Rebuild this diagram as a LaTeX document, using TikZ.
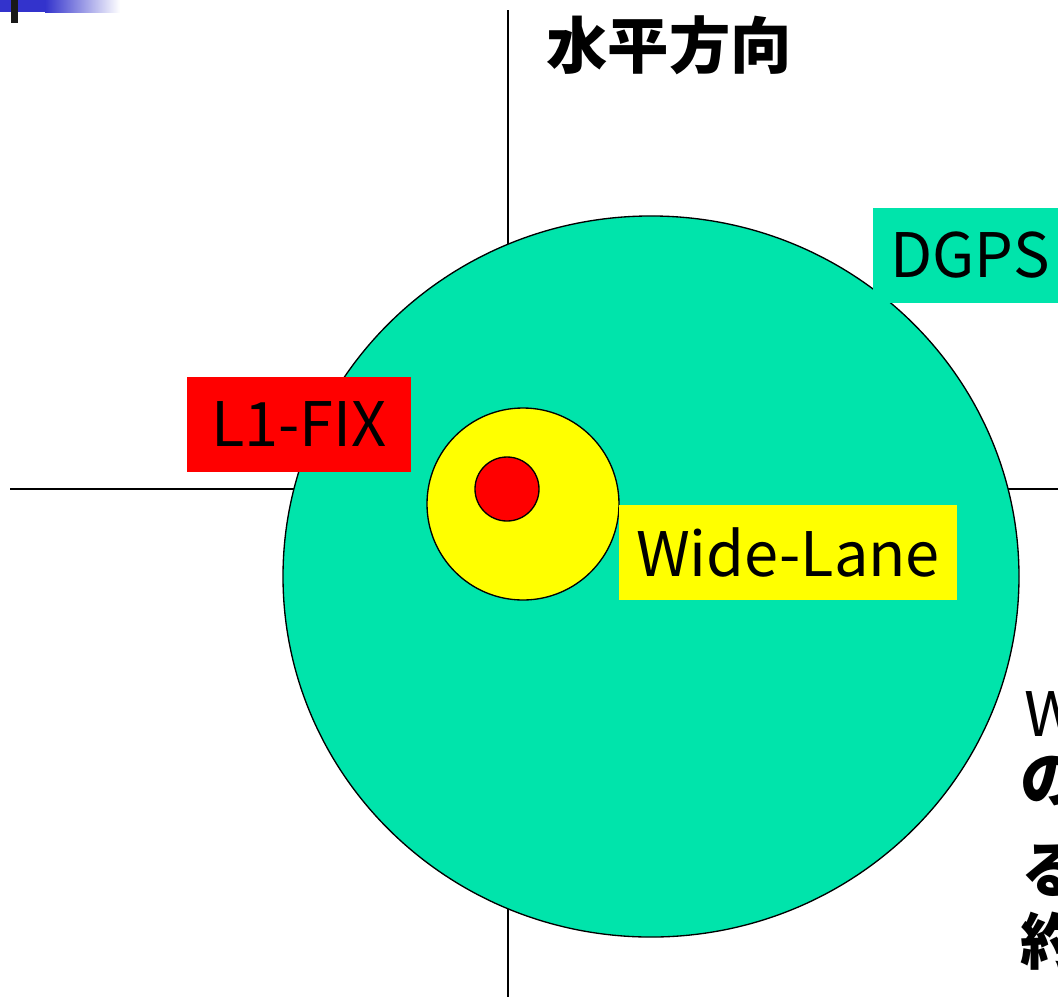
\documentclass[tikz,border=0pt]{standalone}
\usepackage{fontspec}
\setmainfont{Noto Sans CJK JP}
\definecolor{dgps}{RGB}{0,228,171}
\definecolor{banner}{RGB}{51,51,204}
\definecolor{redfix}{RGB}{255,0,0}
\definecolor{wl}{RGB}{255,255,0}
\tikzset{
  axis/.style={line width=1.1pt,black},
  ring/.style={circle,draw=black,line width=1pt,inner sep=0pt},
  labelbox/.style={rectangle,inner sep=0pt,font=\fontsize{46}{50}\selectfont,text=black},
  bigtext/.style={inner sep=0pt,font=\fontsize{46}{50}\selectfont,text=black}
}
\begin{document}
\begin{tikzpicture}[x=0.75pt,y=-0.75pt]
\useasboundingbox (0,0) rectangle (1058,997);
\clip (0,0) rectangle (1058,997);
% banner
\fill[banner] (0,0) rectangle (46,12);
\shade[left color=banner,right color=white] (45,0) rectangle (120,12);
\fill[black!90] (11,0) rectangle (18,23);
% axes
\coordinate (vtop) at (508,10);
\coordinate (vbot) at (508,997);
\coordinate (hleft) at (10,489);
\coordinate (hright) at (1058,489);
\draw[axis] (vtop) -- (vbot);
\draw[axis] (hleft) -- (hright);
% title
\node[bigtext,font=\fontsize{46}{50}\selectfont\bfseries] (title) at (669,45) {水平方向};
% big DGPS circle
\draw[line width=1pt,fill=dgps] (651,576.5) ellipse [x radius=276pt, y radius=270.4pt];
\coordinate (dgpsC) at (651,576.5);
% wide-lane circle
\node[ring,fill=wl,minimum size=144pt] (wlC) at (523,504) {};
% L1 fix circle
\node[ring,fill=redfix,minimum size=48pt] (fixC) at (507,489) {};
% label boxes
\node[labelbox,fill=dgps,minimum width=145.5pt,minimum height=71.25pt] (dgpsL) at (970,255.5) {DGPS};
\node[labelbox,fill=redfix,minimum width=168pt,minimum height=71.25pt] (fixL) at (299,424.5) {L1-FIX};
\node[labelbox,fill=wl,minimum width=253.5pt,minimum height=71.25pt] (wlL) at (788,552.5) {Wide-Lane};
% cut-off note at right
\node[bigtext,anchor=west] (n1) at (1024,714.5) {W};
\node[bigtext,anchor=west,font=\fontsize{46}{50}\selectfont\bfseries] (n2) at (1020,781) {の};
\node[bigtext,anchor=west,font=\fontsize{46}{50}\selectfont\bfseries] (n3) at (1021,870) {る};
\node[bigtext,anchor=west,font=\fontsize{46}{50}\selectfont\bfseries] (n4) at (1020,941) {約};
\end{tikzpicture}
\end{document}
